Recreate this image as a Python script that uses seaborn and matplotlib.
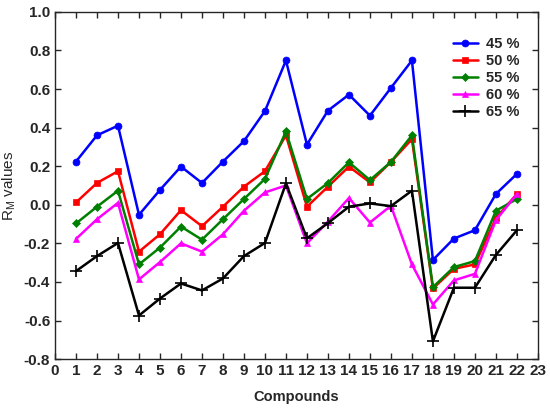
import matplotlib
matplotlib.use("Agg")
import matplotlib.pyplot as plt
import seaborn as sns
import pandas as pd
import numpy as np

compounds = list(range(1, 23))
labels = ["45 %", "50 %", "55 %", "60 %", "65 %"]
rm45 = [0.224, 0.36, 0.41, -0.052, 0.077, 0.198, 0.113, 0.224, 0.33, 0.486, 0.748,
        0.312, 0.488, 0.571, 0.462, 0.606, 0.748, -0.286, -0.175, -0.132, 0.056, 0.16]
rm50 = [0.012, 0.113, 0.174, -0.243, -0.153, -0.028, -0.111, -0.010, 0.094, 0.174, 0.36,
        -0.010, 0.094, 0.198, 0.116, 0.222, 0.34, -0.434, -0.332, -0.309, -0.069, 0.056]
rm55 = [-0.097, -0.010, 0.073, -0.309, -0.222, -0.113, -0.181, -0.075, 0.03, 0.134, 0.38,
        0.03, 0.113, 0.22, 0.128, 0.222, 0.36, -0.427, -0.323, -0.292, -0.031, 0.03]
rm60 = [-0.177, -0.075, 0.01, -0.387, -0.297, -0.2, -0.243, -0.153, -0.031, 0.064, 0.10,
        -0.2, -0.087, 0.035, -0.092, -0.005, -0.309, -0.517, -0.392, -0.358, -0.08, 0.056]
rm65 = [-0.344, -0.266, -0.198, -0.574, -0.486, -0.408, -0.444, -0.382, -0.266, -0.198, 0.111,
        -0.174, -0.095, -0.01, 0.007, -0.007, 0.073, -0.708, -0.43, -0.43, -0.26, -0.132]
series = [rm45, rm50, rm55, rm60, rm65]
yticks = [-0.8, -0.6, -0.4, -0.2, 0.0, 0.2, 0.4, 0.6, 0.8, 1.0]
ytick_labels = ["-0.8", "-0.6", "-0.4", "-0.2", "0.0", "0.2", "0.4", "0.6", "0.8", "1.0"]

colors = ["#0000ff", "#ff0000", "#008000", "#ff00ff", "#000000"]
markers = ["o", "s", "D", "^", "+"]
msizes = [5, 5, 4.5, 5, 8]

df = pd.DataFrame({
    "Compound": compounds * len(labels),
    "RM": sum(series, []),
    "Series": [l for l in labels for _ in compounds],
})

sns.set_style("ticks")
plt.rcParams["font.family"] = ["Liberation Sans", "DejaVu Sans"]

fig = plt.figure(figsize=(5.5, 4.09), dpi=100)
ax = fig.add_axes([0.1, 0.122, 0.878, 0.849])

for lab, col, mk, ms in zip(labels, colors, markers, msizes):
    sub = df[df["Series"] == lab]
    sns.lineplot(data=sub, x="Compound", y="RM", ax=ax, color=col, marker=mk,
                 markersize=ms, markeredgecolor=col, markeredgewidth=1.2 if mk == "+" else 0.5,
                 linewidth=1.8, label=lab)

ax.set_xlim(0, 23)
ax.set_ylim(-0.8, 1.0)
ax.set_xticks(range(0, 24))
ax.set_yticks(yticks)
ax.set_yticklabels(ytick_labels)
ax.tick_params(direction="in", top=True, right=True, length=4, width=1, labelsize=11)
for t in ax.get_xticklabels() + ax.get_yticklabels():
    t.set_fontweight("bold")
for s in ax.spines.values():
    s.set_linewidth(1.0)

ax.set_xlabel("Compounds", fontsize=10.5, fontweight="bold", labelpad=9)
ax.set_ylabel(r"R$_\mathregular{M}$ values", fontsize=11)

leg = ax.legend(loc="upper right", frameon=False, fontsize=10.5, handlelength=1.7,
                handletextpad=0.6, bbox_to_anchor=(0.99, 0.965), labelspacing=0.2)
for t in leg.get_texts():
    t.set_fontweight("bold")

fig.savefig("out.png", dpi=100)
